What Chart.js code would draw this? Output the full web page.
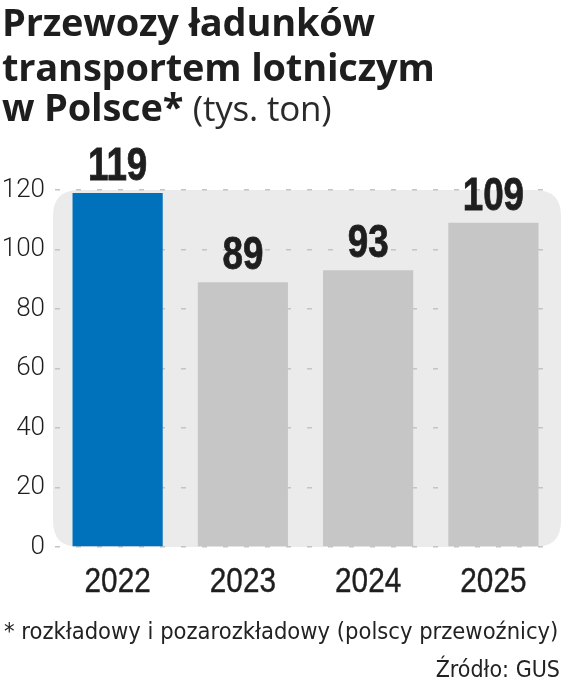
<!DOCTYPE html>
<html>
<head>
<meta charset="utf-8">
<script src="https://cdn.jsdelivr.net/npm/chart.js@4"></script>
<style>
  html, body { margin:0; padding:0; background:#fff; }
  #wrap { position:relative; width:564px; height:694px; overflow:hidden; }
  #c { position:absolute; left:0; top:0; }
  .t { position:absolute; left:2px; color:#1e1e1e; font-family:"Open Sans", sans-serif; font-weight:700; font-size:38px; line-height:42px; white-space:nowrap; letter-spacing:-0.2px; }
  .t span { font-weight:400; font-size:35px; color:#2a2a2a; }
  .note { position:absolute; color:#222; font-family:"DejaVu Sans Condensed", sans-serif; font-size:23.5px; white-space:nowrap; }
</style>
</head>
<body>
<div id="wrap">
  <canvas id="c" width="564" height="694"></canvas>
  <div class="t" style="top:0px">Przewozy ładunków</div>
  <div class="t" style="top:45px">transportem lotniczym</div>
  <div class="t" style="top:85px">w Polsce* <span>(tys. ton)</span></div>
  <div class="note" style="left:4px; top:617px;">* rozkładowy i pozarozkładowy (polscy przewoźnicy)</div>
  <div class="note" style="right:4px; top:656px; font-size:23px;">Źródło: GUS</div>
</div>
<script>
const categories = ["2022", "2023", "2024", "2025"];
const values = [119, 89, 93, 109];
const yTicks = [0, 20, 40, 60, 80, 100, 120];
const barColors = ["#0071bb", "#c6c6c6", "#c6c6c6", "#c6c6c6"];

const panelPlugin = {
  id: "panel",
  beforeDraw(chart) {
    const { ctx, chartArea, scales } = chart;
    const y = scales.y;
    const top = y.getPixelForValue(yTicks[yTicks.length - 1]);
    const bottom = y.getPixelForValue(yTicks[0]);
    const left = chartArea.left - 2;
    const right = chartArea.right + 5;
    const r = 26;
    ctx.save();
    ctx.fillStyle = "#ebebeb";
    ctx.beginPath();
    ctx.moveTo(left + r, top);
    ctx.lineTo(right - r, top);
    ctx.quadraticCurveTo(right, top, right, top + r);
    ctx.lineTo(right, bottom - r);
    ctx.quadraticCurveTo(right, bottom, right - r, bottom);
    ctx.lineTo(left + r, bottom);
    ctx.quadraticCurveTo(left, bottom, left, bottom - r);
    ctx.lineTo(left, top + r);
    ctx.quadraticCurveTo(left, top, left + r, top);
    ctx.closePath();
    ctx.fill();
    ctx.restore();
  }
};

function condensedText(ctx, text, x, y, sx, stroke) {
  ctx.save();
  ctx.translate(x, y);
  ctx.scale(sx, 1);
  ctx.fillText(text, 0, 0);
  if (stroke) { ctx.lineWidth = stroke; ctx.strokeStyle = ctx.fillStyle; ctx.strokeText(text, 0, 0); }
  ctx.restore();
}

const valueLabels = {
  id: "valueLabels",
  afterDatasetsDraw(chart) {
    const { ctx } = chart;
    const meta = chart.getDatasetMeta(0);
    ctx.save();
    ctx.fillStyle = "#1e1e1e";
    ctx.font = "bold 46px 'Liberation Sans', sans-serif";
    ctx.textAlign = "center";
    ctx.textBaseline = "alphabetic";
    meta.data.forEach((el, i) => {
      condensedText(ctx, String(values[i]), el.x, el.y - 13, 0.8, 0.8);
    });
    ctx.restore();
  }
};

const xLabels = {
  id: "xLabels",
  afterDraw(chart) {
    const { ctx, scales } = chart;
    const x = scales.x;
    ctx.save();
    ctx.fillStyle = "#1e1e1e";
    ctx.font = "35px 'Liberation Sans', sans-serif";
    ctx.textAlign = "center";
    ctx.textBaseline = "alphabetic";
    categories.forEach((c, i) => {
      condensedText(ctx, c, x.getPixelForValue(i), x.top + 45, 0.85, 0.4);
    });
    ctx.restore();
  }
};

new Chart(document.getElementById("c"), {
  type: "bar",
  data: {
    labels: categories,
    datasets: [{
      data: values,
      backgroundColor: barColors,
      borderWidth: 0,
      barPercentage: 0.72,
      categoryPercentage: 1.0
    }]
  },
  options: {
    responsive: false,
    animation: false,
    devicePixelRatio: 1,
    layout: { padding: { top: 190, right: 8, bottom: 87, left: 0 } },
    plugins: { legend: { display: false }, tooltip: { enabled: false }, title: { display: false } },
    scales: {
      x: {
        grid: { display: false, drawTicks: false },
        border: { display: false },
        ticks: { display: false },
        afterFit(s) { s.height = 60; }
      },
      y: {
        min: 0, max: 120,
        afterBuildTicks(s) { s.ticks = yTicks.map(v => ({ value: v })); },
        grid: { color: "#c4c4c4", lineWidth: 1.5, drawTicks: false },
        border: { display: false, dash: [5, 16] },
        ticks: { color: "#1e1e1e", padding: 10, font: { family: "Roboto, sans-serif", size: 26, weight: 300 } },
        afterFit(s) { s.width = 55; }
      }
    }
  },
  plugins: [panelPlugin, valueLabels, xLabels]
});
</script>
</body>
</html>
